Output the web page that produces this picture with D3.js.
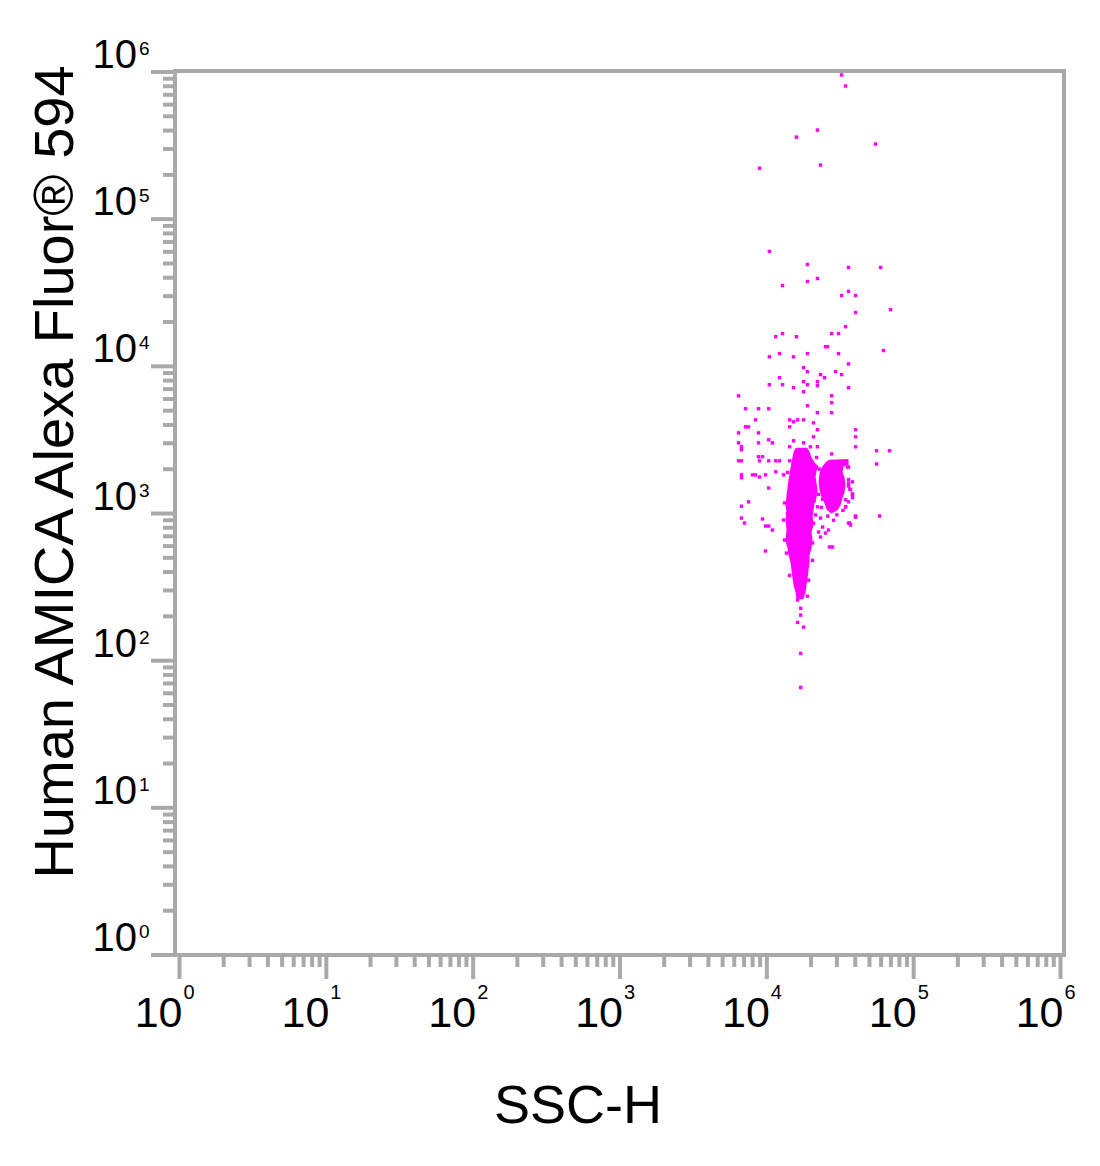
<!DOCTYPE html>
<html>
<head>
<meta charset="utf-8">
<script src="https://cdn.jsdelivr.net/npm/d3@7"></script>
<style>
  html, body { margin: 0; padding: 0; background: #ffffff; }
  svg { display: block; }
  text { font-family: "Liberation Sans", Arial, sans-serif; fill: #000; }
</style>
</head>
<body>
<svg id="chart" width="1100" height="1166"></svg>
<script>
// ---------- data ----------
const xTitle = "SSC-H";
const yTitle = "Human AMICA Alexa Fluor\u00AE 594";
const decadeValues = [1, 10, 100, 1000, 10000, 100000, 1000000];
const decadeExponents = ["0", "1", "2", "3", "4", "5", "6"];

// dense core population outline (SSC-H, fluorescence)
const coreSSC   = [15930, 15440, 15190, 14960, 14730, 14500, 14270, 14050, 13840, 13620, 13840, 13620, 13840, 13620, 14050, 14270, 14730, 14960, 15190, 15440, 15930, 16180,
                   17510, 18060, 18350, 18640, 18930, 19230, 19230, 19840, 20160, 19840, 20480, 20160, 20480, 20800, 21460, 21800, 21460, 21130, 21460, 22140, 20800, 19840, 19230, 18640];
const coreFluor = [2750, 2620, 2390, 2240, 2040, 1860, 1690, 1490, 1340, 1140, 1020, 903, 772, 660, 582, 522, 467, 412, 364, 326, 292, 266,
                   266, 292, 326, 364, 412, 467, 522, 582, 660, 748, 835, 946, 1060, 1180, 1290, 1450, 1610, 1770, 1950, 2070, 2210, 2390, 2620, 2750];

// secondary (higher SSC) population outline
const sideSSC   = [23950, 25510, 26730, 35450, 35450, 32790, 32270, 33300, 33820, 33300, 32270, 31280, 29840, 27580, 25910, 25110, 23950, 23210, 22850, 23210];
const sideFluor = [2040, 2210, 2280, 2310, 2170, 2110, 1920, 1750, 1560, 1400, 1280, 1140, 1060, 1020, 1070, 1180, 1290, 1450, 1640, 1860];

// individual events
const eventSSC = [
  32300, 34400, 22100, 15900, 55000, 8920, 23200, 10400, 18900, 36000, 59500, 12800, 18900, 22100, 32300, 36000,
  40200, 40200, 69600, 34400, 11500, 12800, 15900, 27600, 30800, 25100, 25900, 10400, 12200, 15200, 18900, 30800,
  62300, 36000, 17800, 18900, 23200, 24700, 29400, 32300, 12200, 10400, 12800, 15200, 17800, 18900, 22100, 22100,
  36000, 17800, 6420, 27600, 27600, 18900, 7160, 8780, 10300, 22100, 27600, 8380, 14300, 14300, 15200, 16200,
  17800, 20800, 7160, 7500, 22100, 40200, 6420, 8780, 20800, 40200, 10300, 10900, 6420, 6720, 6720, 8780,
  15200, 17800, 14300, 19800, 22100, 40200, 27600, 55900, 68500, 6420, 6720, 8780, 9350, 8920, 10300, 11500,
  12200, 14300, 55900, 36000, 6720, 6720, 8000, 8380, 8920, 9800, 11500, 13000, 10300, 38300, 36000, 38300,
  34400, 36000, 6720, 7500, 6720, 7050, 9350, 9800, 10300, 10900, 40200, 58600, 36000, 9800, 13600, 26700,
  28000, 22100, 21500, 23200, 20800, 24000, 22500, 25100, 26300, 23200, 20500, 16200, 17000, 17000, 16200, 17800,
  17000, 17000, 18900, 35450, 36000, 36700, 38300, 34400, 40200, 36700, 13840, 13840, 14050, 21800, 22800, 24000,
  36000, 37150, 38300, 34400, 40200, 37150, 13200, 13000, 13200, 14270, 19230, 20480, 22500, 24000, 26000, 28500,
  30000, 33000, 21000, 23500
];
const eventFluor = [
  955000, 803000, 403000, 361000, 324000, 222000, 233000, 60400, 49200, 47000, 47000, 35400, 37700, 39500, 30300, 32300,
  30300, 23200, 24300, 18600, 15900, 16700, 15900, 16700, 16700, 13600, 13600, 11600, 12200, 11600, 12200, 12200,
  12800, 10400, 9800, 9200, 8780, 8370, 9200, 8780, 8370, 7500, 7500, 7160, 7870, 7500, 7870, 7380,
  7160, 6720, 6310, 6310, 5660, 5400, 5150, 5150, 5150, 4840, 4840, 4330, 4330, 3880, 4200, 4330,
  4330, 4130, 3880, 3880, 3710, 3710, 3530, 3530, 3320, 3320, 3170, 3020, 3020, 2840, 2710, 3020,
  3120, 3020, 2840, 2840, 2840, 2840, 2540, 2670, 2670, 2280, 2280, 2430, 2430, 2280, 2280, 2280,
  2280, 2280, 2170, 2070, 1830, 1750, 1830, 1830, 1770, 1830, 1920, 1830, 1490, 1640, 1540, 1340,
  1240, 1200, 1120, 1200, 931, 861, 918, 822, 822, 772, 962, 962, 861, 556, 538, 592,
  592, 1110, 977, 931, 861, 809, 748, 736, 772, 692, 630, 258, 227, 204, 182, 169,
  112, 65.8, 274, 2070, 1700, 1470, 1360, 1110, 950, 860, 1900, 1000, 620, 2400, 2000, 1600,
  1610, 1450, 1280, 1110, 946, 835, 1180, 903, 660, 380, 352, 480, 1350, 1250, 960, 900,
  980, 1050, 1220, 1100
];

// ---------- layout ----------
const svg = d3.select("#chart");
const frame = { left: 175, right: 1064, top: 71, bottom: 955 };
const axisColor = "#a9a9a9";

const x = d3.scaleLog().domain([1, 1e6]).range([179.5, 1060.5]);
const y = d3.scaleLog().domain([1, 1e6]).range([955, 72]);

const minorTicks = x.ticks().filter(v => decadeValues.indexOf(v) < 0);

// ---------- frame ----------
svg.append("rect")
  .attr("x", frame.left).attr("y", frame.top)
  .attr("width", frame.right - frame.left).attr("height", frame.bottom - frame.top)
  .attr("fill", "none").attr("stroke", axisColor).attr("stroke-width", 4);

// x ticks
const gx = svg.append("g").attr("stroke", axisColor).attr("stroke-width", 4);
gx.selectAll("line.major").data(decadeValues).join("line")
  .attr("x1", d => x(d)).attr("x2", d => x(d))
  .attr("y1", frame.bottom).attr("y2", frame.bottom + 24);
gx.selectAll("line.minor").data(minorTicks).join("line")
  .attr("x1", d => x(d)).attr("x2", d => x(d))
  .attr("y1", frame.bottom).attr("y2", frame.bottom + 12);

// y ticks
const gy = svg.append("g").attr("stroke", axisColor).attr("stroke-width", 4);
gy.selectAll("line.major").data(decadeValues).join("line")
  .attr("y1", d => y(d)).attr("y2", d => y(d))
  .attr("x1", frame.left).attr("x2", frame.left - 24);
gy.selectAll("line.minor").data(minorTicks).join("line")
  .attr("y1", d => y(d)).attr("y2", d => y(d))
  .attr("x1", frame.left).attr("x2", frame.left - 12);

// x tick labels
const xl = svg.append("g");
decadeValues.forEach((v, i) => {
  xl.append("text").attr("x", x(v) + 3).attr("y", 1027)
    .attr("text-anchor", "end").attr("font-size", 43).text("10");
  xl.append("text").attr("x", x(v) + 4).attr("y", 999)
    .attr("font-size", 20).text(decadeExponents[i]);
});

// y tick labels
const yl = svg.append("g");
decadeValues.forEach((v, i) => {
  yl.append("text").attr("x", 137).attr("y", y(v) - 4)
    .attr("text-anchor", "end").attr("font-size", 40).text("10");
  yl.append("text").attr("x", 139).attr("y", y(v) - 17)
    .attr("font-size", 19).text(decadeExponents[i]);
});

// titles
svg.append("text").attr("x", 578).attr("y", 1123)
  .attr("text-anchor", "middle").attr("font-size", 54).text(xTitle);
svg.append("text").attr("transform", "translate(73,472) rotate(-90)")
  .attr("text-anchor", "middle").attr("font-size", 56).text(yTitle);

// ---------- data marks ----------
const magenta = "#ff00ff";
const poly = (xs, ys) => d3.line().x((d, i) => x(xs[i])).y((d, i) => y(ys[i])).curve(d3.curveLinearClosed)(xs);

svg.append("path").attr("d", poly(coreSSC, coreFluor)).attr("fill", magenta)
  .attr("stroke", magenta).attr("stroke-width", 2).attr("stroke-linejoin", "miter");
svg.append("path").attr("d", poly(sideSSC, sideFluor)).attr("fill", magenta)
  .attr("stroke", magenta).attr("stroke-width", 2);

const s = 3.4;
svg.append("g").selectAll("rect").data(eventSSC).join("rect")
  .attr("x", (d, i) => x(d) - s / 2)
  .attr("y", (d, i) => y(eventFluor[i]) - s / 2)
  .attr("width", s).attr("height", s)
  .attr("fill", magenta);
</script>
</body>
</html>
